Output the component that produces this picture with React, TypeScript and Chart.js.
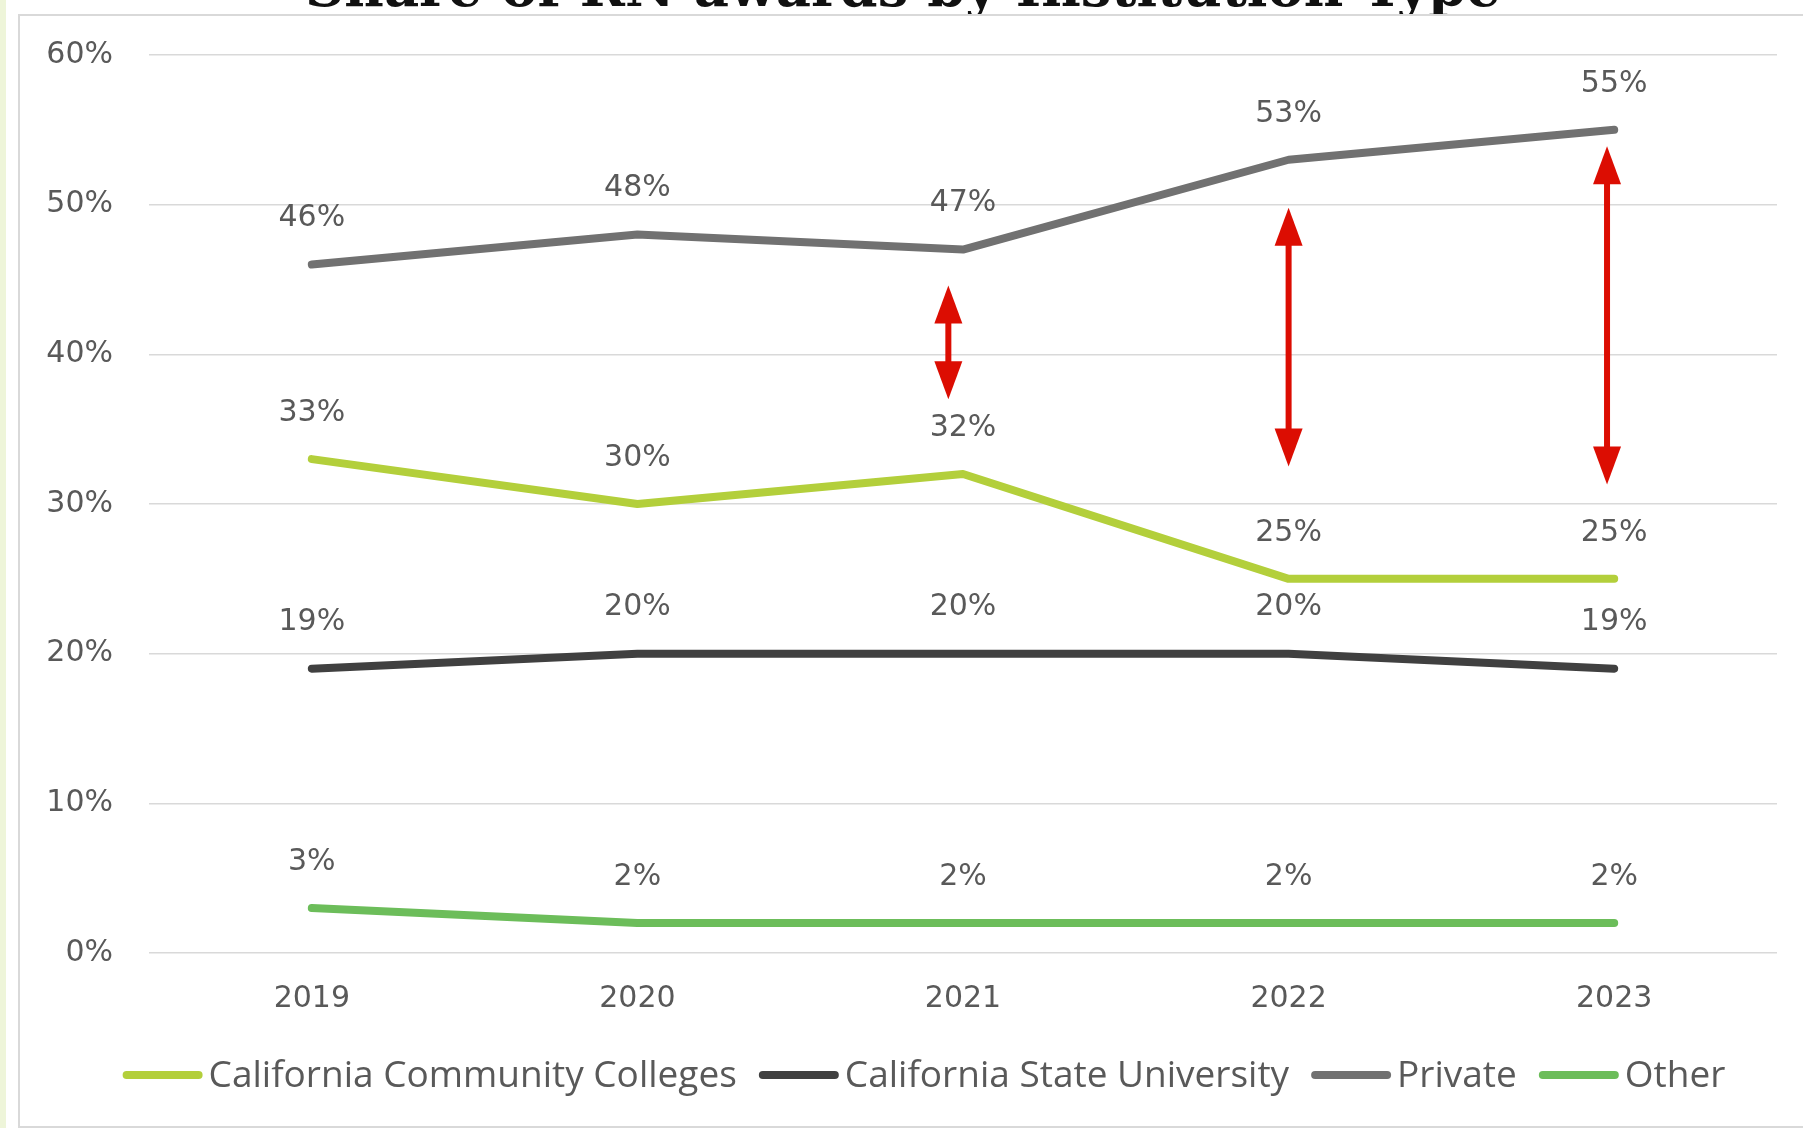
import React, { useEffect, useRef } from "react";
import { Chart, registerables } from "chart.js";

Chart.register(...registerables);

const TITLE = "Share of RN awards by Institution Type";
const years = ["2019", "2020", "2021", "2022", "2023"];
const seriesNames = [
  "California Community Colleges",
  "California State University",
  "Private",
  "Other",
];
const cccValues = [33, 30, 32, 25, 25];
const csuValues = [19, 20, 20, 20, 19];
const privateValues = [46, 48, 47, 53, 55];
const otherValues = [3, 2, 2, 2, 2];
const seriesColors = ["#b3cf3b", "#404040", "#717171", "#6cbd5a"];
const yMin = 0;
const yMax = 60;
const yStep = 10;
// red double arrows: category position (index), top value, bottom value
const arrowPositions = [1.955, 3, 3.978];
const arrowTopValues = [44.6, 49.8, 53.9];
const arrowBottomValues = [37.0, 32.5, 31.3];

const LABEL_COLOR = "#595959";
const TICK_FONT = { family: "'DejaVu Sans'", size: 30 };

const backgroundPlugin = {
  id: "bgFrame",
  beforeDraw(chart: any) {
    const { ctx, width, height } = chart;
    ctx.save();
    ctx.fillStyle = "#ffffff";
    ctx.fillRect(0, 0, width, height);
    ctx.fillStyle = "#eef5d9";
    ctx.fillRect(0, 0, 6, height);
    // clipped title
    let size = 52;
    ctx.font = `bold ${size}px 'DejaVu Serif'`;
    const w = ctx.measureText(TITLE).width;
    size = (size * 1196) / w;
    ctx.font = `bold ${size}px 'DejaVu Serif'`;
    ctx.fillStyle = "#111111";
    ctx.textAlign = "center";
    ctx.textBaseline = "alphabetic";
    ctx.fillText(TITLE, 903, 6);
    // panel
    ctx.fillStyle = "#ffffff";
    ctx.fillRect(19, 15, width, height);
    ctx.strokeStyle = "#d9d9d9";
    ctx.lineWidth = 2;
    ctx.strokeRect(19, 15, width + 20, height - 16);
    ctx.restore();
  },
};

const labelsPlugin = {
  id: "valueLabels",
  afterDatasetsDraw(chart: any) {
    const { ctx } = chart;
    ctx.save();
    ctx.font = `30px 'DejaVu Sans'`;
    ctx.fillStyle = LABEL_COLOR;
    ctx.textAlign = "center";
    ctx.textBaseline = "middle";
    chart.data.datasets.forEach((ds: any, i: number) => {
      const meta = chart.getDatasetMeta(i);
      meta.data.forEach((pt: any, j: number) => {
        ctx.fillText(ds.data[j] + "%", pt.x, pt.y - 46);
      });
    });
    ctx.restore();
  },
};

const arrowsPlugin = {
  id: "arrows",
  afterDatasetsDraw(chart: any) {
    const { ctx, scales } = chart;
    const headLen = 38;
    const headW = 28;
    const shaftW = 6;
    ctx.save();
    ctx.fillStyle = "#dc0d02";
    arrowPositions.forEach((pos, i) => {
      const x = scales.x.getPixelForValue(pos);
      const yT = scales.y.getPixelForValue(arrowTopValues[i]);
      const yB = scales.y.getPixelForValue(arrowBottomValues[i]);
      ctx.fillRect(x - shaftW / 2, yT + headLen - 1, shaftW, yB - yT - 2 * headLen + 2);
      ctx.beginPath();
      ctx.moveTo(x, yT);
      ctx.lineTo(x + headW / 2, yT + headLen);
      ctx.lineTo(x - headW / 2, yT + headLen);
      ctx.closePath();
      ctx.fill();
      ctx.beginPath();
      ctx.moveTo(x, yB);
      ctx.lineTo(x + headW / 2, yB - headLen);
      ctx.lineTo(x - headW / 2, yB - headLen);
      ctx.closePath();
      ctx.fill();
    });
    ctx.restore();
  },
};

const legendPlugin = {
  id: "lineLegend",
  afterDraw(chart: any) {
    const { ctx } = chart;
    const lineLen = 80;
    const gapText = 6;
    const gapItem = 22;
    const centerX = 924;
    const centerY = 1075;
    ctx.save();
    ctx.font = `37px 'Open Sans'`;
    const items = chart.data.datasets.map((ds: any) => ({
      text: ds.label,
      color: ds.borderColor,
      lw: ds.borderWidth,
      w: ctx.measureText(ds.label).width,
    }));
    const total =
      items.reduce((s: number, it: any) => s + lineLen + gapText + it.w, 0) +
      gapItem * (items.length - 1);
    let x = centerX - total / 2;
    ctx.textAlign = "left";
    ctx.textBaseline = "middle";
    items.forEach((it: any) => {
      ctx.strokeStyle = it.color;
      ctx.lineWidth = it.lw;
      ctx.lineCap = "round";
      ctx.beginPath();
      ctx.moveTo(x + it.lw / 2, centerY);
      ctx.lineTo(x + lineLen - it.lw / 2, centerY);
      ctx.stroke();
      ctx.fillStyle = LABEL_COLOR;
      ctx.fillText(it.text, x + lineLen + gapText, centerY + 1);
      x += lineLen + gapText + it.w + gapItem;
    });
    ctx.restore();
  },
};

export default function App() {
  const ref = useRef<HTMLCanvasElement>(null);

  useEffect(() => {
    document.body.style.margin = "0";
    const values = [cccValues, csuValues, privateValues, otherValues];
    const chart = new Chart(ref.current as HTMLCanvasElement, {
      type: "line",
      data: {
        labels: years,
        datasets: seriesNames.map((name, i) => ({
          label: name,
          data: values[i],
          borderColor: seriesColors[i],
          backgroundColor: seriesColors[i],
          borderWidth: 8,
          borderCapStyle: "round",
          borderJoinStyle: "round",
          pointRadius: 0,
          pointHoverRadius: 0,
          fill: false,
          tension: 0,
        })),
      },
      options: {
        responsive: false,
        animation: false,
        devicePixelRatio: 1,
        layout: { padding: { top: 55, right: 26, bottom: 91, left: 0 } },
        plugins: {
          title: { display: false },
          tooltip: { enabled: false },
          legend: { display: false },
        },
        scales: {
          x: {
            offset: true,
            grid: { display: false, drawTicks: false },
            border: { display: false },
            ticks: { color: LABEL_COLOR, font: TICK_FONT, padding: 28 },
            afterFit: (s: any) => {
              s.height = 84;
            },
          },
          y: {
            min: yMin,
            max: yMax,
            grid: { color: "#d9d9d9", lineWidth: 1.5, drawTicks: false },
            border: { display: false },
            ticks: {
              stepSize: yStep,
              color: LABEL_COLOR,
              font: TICK_FONT,
              padding: 36,
              callback: (v: any) => v + "%",
            },
            afterFit: (s: any) => {
              s.width = 149;
            },
          },
        },
      } as any,
      plugins: [backgroundPlugin, labelsPlugin, arrowsPlugin, legendPlugin],
    });
    return () => chart.destroy();
  }, []);

  return (
    <div style={{ width: 1803, height: 1128 }}>
      <canvas ref={ref} width={1803} height={1128} style={{ display: "block" }} />
    </div>
  );
}
